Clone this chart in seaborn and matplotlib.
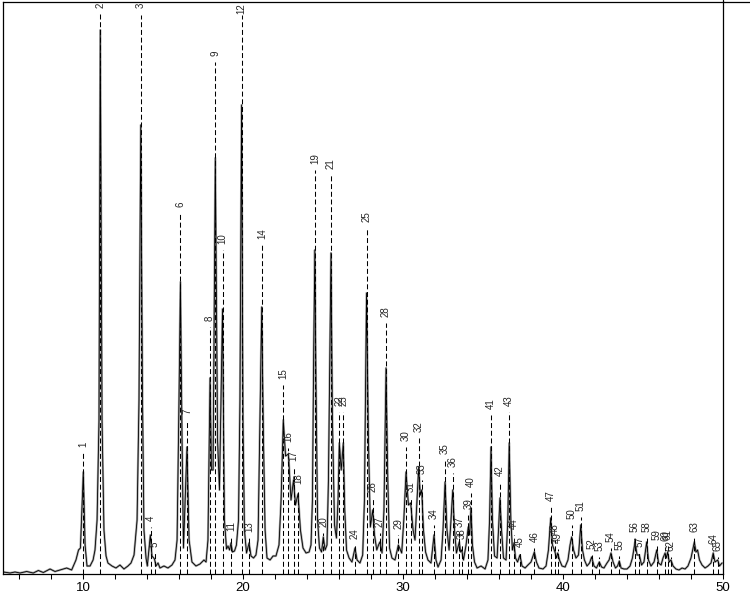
import numpy as np
import pandas as pd

import matplotlib
matplotlib.use("Agg")
import matplotlib.pyplot as plt
from matplotlib.lines import Line2D
import seaborn as sns

# detector trace: retention time (min) / signal (arbitrary units)
trace_rt = [
    5.02, 5.44, 5.75, 6.06, 6.48, 6.89, 7.21, 7.52, 7.94, 8.25, 8.56, 8.98, 9.29, 9.56, 9.72, 9.84,
    10.02, 10.13, 10.25, 10.44, 10.63, 10.75, 10.88, 11.00, 11.08, 11.19, 11.31, 11.44, 11.56, 11.81,
    12.06, 12.31, 12.56, 12.81, 13.00, 13.19, 13.38, 13.50, 13.61, 13.72, 13.81, 13.94, 14.02, 14.21,
    14.31, 14.47, 14.56, 14.69, 14.81, 15.06, 15.31, 15.56, 15.75, 15.88, 16.00, 16.09, 16.19, 16.28,
    16.50, 16.63, 16.81, 17.06, 17.31, 17.56, 17.69, 17.81, 17.94, 18.03, 18.13, 18.27, 18.41, 18.53,
    18.72, 18.84, 18.97, 19.06, 19.16, 19.25, 19.34, 19.47, 19.59, 19.72, 19.81, 19.91, 20.00, 20.09,
    20.22, 20.38, 20.50, 20.66, 20.81, 20.94, 21.06, 21.17, 21.28, 21.38, 21.50, 21.69, 21.88, 22.06,
    22.16, 22.25, 22.38, 22.52, 22.66, 22.84, 23.00, 23.16, 23.28, 23.44, 23.59, 23.75, 23.94, 24.13,
    24.25, 24.34, 24.42, 24.49, 24.56, 24.66, 24.78, 24.91, 25.02, 25.13, 25.25, 25.34, 25.50, 25.59,
    25.72, 25.84, 25.94, 26.02, 26.14, 26.27, 26.36, 26.47, 26.63, 26.81, 27.00, 27.13, 27.31, 27.48,
    27.59, 27.72, 27.84, 27.96, 28.11, 28.22, 28.36, 28.47, 28.56, 28.69, 28.81, 28.94, 29.05, 29.16,
    29.31, 29.50, 29.71, 29.92, 30.05, 30.19, 30.34, 30.48, 30.63, 30.75, 30.86, 30.98, 31.08, 31.17,
    31.28, 31.41, 31.56, 31.75, 31.94, 32.06, 32.19, 32.38, 32.50, 32.63, 32.75, 32.88, 33.00, 33.11,
    33.22, 33.34, 33.52, 33.60, 33.67, 33.78, 33.94, 34.08, 34.16, 34.25, 34.34, 34.47, 34.63, 34.88,
    35.13, 35.31, 35.41, 35.50, 35.59, 35.72, 35.88, 35.97, 36.06, 36.16, 36.28, 36.44, 36.55, 36.64,
    36.74, 36.84, 36.94, 37.03, 37.16, 37.31, 37.44, 37.63, 37.81, 38.00, 38.21, 38.34, 38.50, 38.75,
    38.94, 39.09, 39.23, 39.34, 39.50, 39.59, 39.67, 39.78, 39.94, 40.13, 40.31, 40.44, 40.54, 40.66,
    40.81, 40.97, 41.11, 41.22, 41.34, 41.50, 41.66, 41.79, 41.94, 42.09, 42.27, 42.41, 42.56, 42.75,
    42.88, 43.00, 43.13, 43.28, 43.41, 43.52, 43.63, 43.81, 44.00, 44.19, 44.34, 44.50, 44.63, 44.77,
    44.91, 45.06, 45.23, 45.34, 45.50, 45.69, 45.86, 45.97, 46.13, 46.25, 46.38, 46.46, 46.54, 46.64,
    46.75, 46.88, 47.06, 47.25, 47.44, 47.63, 47.81, 48.00, 48.21, 48.31, 48.41, 48.53, 48.69, 48.88,
    49.06, 49.25, 49.39, 49.50, 49.67, 49.78, 49.94,
]
trace_signal = [
    2, 1, 2, 1, 2.5, 1, 3.5, 1.5, 5, 2.5, 4, 6, 4, 14, 24, 26,
    102, 29, 8, 8, 14, 24, 54, 154, 544, 154, 44, 18, 11, 8,
    6, 9, 5, 8, 11, 19, 54, 174, 449, 174, 44, 16, 8, 39,
    18, 15, 8, 11, 6, 8, 6, 9, 14, 34, 174, 292, 134, 26,
    127, 34, 12, 8, 10, 14, 12, 34, 196, 104, 104, 416, 134, 84,
    265, 54, 25, 28, 24, 31, 22, 23, 29, 54, 174, 469, 154, 44,
    21, 31, 18, 16, 19, 34, 154, 267, 134, 44, 16, 14, 18, 18,
    24, 29, 74, 154, 118, 120, 74, 94, 69, 80, 44, 26, 21, 22,
    29, 74, 224, 324, 194, 54, 26, 22, 37, 24, 29, 94, 321, 154,
    49, 36, 74, 131, 104, 131, 64, 24, 16, 12, 26, 14, 11, 19,
    74, 281, 134, 47, 64, 39, 24, 29, 32, 21, 64, 206, 94, 26,
    16, 14, 29, 21, 54, 102, 69, 71, 44, 34, 69, 107, 79, 84,
    44, 22, 14, 11, 39, 14, 7, 14, 44, 92, 44, 24, 54, 84,
    44, 21, 32, 22, 24, 14, 29, 47, 39, 66, 29, 12, 6, 8,
    5, 14, 54, 127, 54, 18, 16, 44, 76, 44, 16, 14, 54, 131,
    54, 24, 31, 16, 12, 19, 8, 6, 9, 12, 22, 12, 6, 5,
    8, 24, 56, 29, 22, 16, 21, 14, 8, 7, 14, 29, 37, 24,
    16, 19, 49, 24, 14, 8, 11, 17, 8, 6, 12, 7, 6, 11,
    14, 21, 12, 6, 8, 13, 6, 5, 5, 8, 16, 32, 19, 19,
    9, 12, 32, 14, 8, 12, 24, 11, 9, 16, 21, 16, 22, 12,
    14, 8, 5, 4, 6, 5, 8, 16, 32, 22, 24, 14, 9, 6,
    8, 11, 21, 12, 14, 8, 11,
]

# integrated peaks: number, retention time, marker height
peak_ids = list(range(1, 66))
peak_rt = [
    10.02, 11.08, 13.61, 14.22, 14.47, 16.09, 16.50, 17.94, 18.27, 18.72,
    19.25, 19.91, 20.38, 21.18, 22.52, 22.84, 23.16, 23.44, 24.49, 25.02,
    25.50, 26.02, 26.27, 27.00, 27.72, 28.11, 28.56, 28.94, 29.71, 30.19,
    30.48, 30.98, 31.17, 31.94, 32.63, 33.11, 33.52, 33.67, 34.08, 34.25,
    35.50, 36.06, 36.64, 36.94, 37.31, 38.21, 39.23, 39.50, 39.67, 40.54,
    41.11, 41.79, 42.27, 43.00, 43.52, 44.50, 44.77, 45.23, 45.86, 46.38,
    46.54, 46.75, 48.21, 49.39, 49.67,
]
peak_height = [
    121, 562, 559, 47, 21, 361, 154, 247, 512, 324,
    37, 559, 36, 329, 189, 126, 107, 84, 404, 41,
    399, 162, 162, 29, 346, 76, 41, 251, 39, 127,
    76, 136, 94, 49, 114, 101, 41, 29, 59, 81,
    159, 92, 162, 39, 21, 26, 67, 34, 25, 49,
    57, 19, 17, 26, 18, 36, 21, 36, 28, 27,
    28, 17, 36, 24, 17,
]

sns.set_theme(style="white")
plt.rcParams["font.family"] = ["Liberation Sans", "DejaVu Sans"]

fig = plt.figure(figsize=(7.5, 5.93), dpi=100)
ax = fig.add_axes([3 / 750, 1 - 574 / 593, 720 / 750, 572 / 593])

df = pd.DataFrame({"rt": trace_rt, "signal": trace_signal})
sns.lineplot(data=df, x="rt", y="signal", sort=False, estimator=None,
             color="#a6a6a6", lw=1.6, ax=ax)
sns.lineplot(data=df, x="rt", y="signal", sort=False, estimator=None,
             color="black", lw=0.6, ax=ax)

ytop = 572
ax.vlines(peak_rt, 0, peak_height, colors="black", linewidth=0.75,
          linestyles=(0, (4.8, 2.6)))
for n, rt, h in zip(peak_ids, peak_rt, peak_height):
    lab = str(n)
    if h + 7 + 5.5 * len(lab) > ytop - 1:
        # off-scale peaks: label pinned to the top of the frame
        ax.text(rt, ytop - 1, lab, rotation=90, ha="center", va="top", fontsize=7)
    else:
        ax.text(rt, h + 6, lab, rotation=90, ha="center", va="bottom", fontsize=7)

ax.set_xlim(5, 50)
ax.set_ylim(0, ytop)
ax.set_xticks([10, 20, 30, 40, 50])
ax.set_xticks(np.arange(6, 50, 2), minor=True)
ax.tick_params(axis="x", which="both", direction="out", length=3.6, width=0.75,
               bottom=True, color="black", labelcolor="black", labelsize=9.5, pad=2)
ax.tick_params(axis="y", left=False, labelleft=False)
ax.set_xlabel("")
ax.set_ylabel("")
for s in ax.spines.values():
    s.set_color("black")
    s.set_linewidth(0.9)

# frame lines running on past the plot corner
yt = 1 - 2 / 593
xr = 723 / 750
fig.add_artist(Line2D([xr, 1.0], [yt, yt], color="black", lw=0.9, transform=fig.transFigure))
fig.add_artist(Line2D([xr, xr], [yt, 1.0], color="black", lw=0.9, transform=fig.transFigure))

fig.savefig("out.png", dpi=100)
plt.close(fig)
